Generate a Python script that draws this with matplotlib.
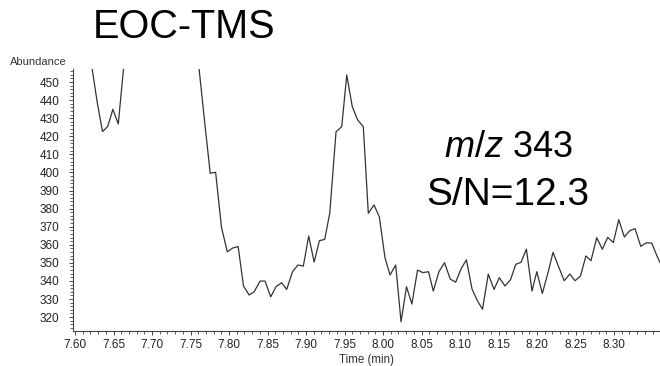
import matplotlib
matplotlib.use("Agg")
import matplotlib.pyplot as plt
from matplotlib.ticker import MultipleLocator

plt.rcParams['font.family'] = ['Liberation Sans', 'DejaVu Sans']
plt.rcParams['mathtext.fontset'] = 'custom'
plt.rcParams['mathtext.it'] = 'Liberation Sans:italic'
plt.rcParams['mathtext.rm'] = 'Liberation Sans'

# retention time (min) of each scan
time_min = [7.6149, 7.6219, 7.6290, 7.6357, 7.6425, 7.6492, 7.6562, 7.6636,
            7.6706, 7.6777, 7.6847, 7.6917, 7.6987, 7.7057, 7.7127, 7.7197,
            7.7268, 7.7338, 7.7408, 7.7478, 7.7543,
            7.7613, 7.7683, 7.7756, 7.7826, 7.7903, 7.7978, 7.8048, 7.8119,
            7.8188, 7.8261, 7.8327, 7.8403, 7.8468, 7.8542, 7.8610, 7.8684,
            7.8749, 7.8825, 7.8896, 7.8965, 7.9035, 7.9106, 7.9173, 7.9243,
            7.9308, 7.9390, 7.9464, 7.9529, 7.9601, 7.9671, 7.9744, 7.9809,
            7.9883, 7.9952, 8.0026, 8.0091, 8.0165, 8.0234, 8.0305, 8.0375,
            8.0448, 8.0518, 8.0591, 8.0653, 8.0727, 8.0799, 8.0873, 8.0944,
            8.1013, 8.1083, 8.1156, 8.1225, 8.1292, 8.1367, 8.1442, 8.1510,
            8.1584, 8.1655, 8.1725, 8.1792, 8.1862, 8.1935, 8.1997, 8.2069,
            8.2138, 8.2208, 8.2281, 8.2353, 8.2425, 8.2494, 8.2564, 8.2635,
            8.2701, 8.2775, 8.2848, 8.2918, 8.2991, 8.3061, 8.3134, 8.3204,
            8.3273, 8.3347, 8.3419, 8.3490, 8.3558, 8.3629]

# abundance, values above the frame are clipped in the original
abundance = [476, 458.3, 438.4, 422.6, 425.4, 434.9, 426.8, 460,
             520, 585, 640, 690, 720, 735, 730, 705,
             660, 610, 560, 515, 484,
             456.6, 428.2, 399.5, 400.1, 369.5, 356.1, 358.2, 359.0,
             337.2, 332.2, 334.0, 339.9, 339.9, 331.2, 336.8, 339.0,
             335.3, 345.1, 348.8, 348.2, 364.8, 350.4, 362.2, 363.0,
             377.4, 422.5, 425.3, 453.9, 436.3, 429.0, 425.3, 377.4,
             382.0, 375.5, 352.7, 343.3, 348.8, 317.4, 336.8, 327.2,
             346.0, 344.6, 345.1, 334.4, 345.2, 350.1, 341.0, 339.3,
             346.6, 351.7, 335.5, 329.1, 324.3, 343.8, 335.3, 341.8,
             337.2, 340.6, 349.2, 350.3, 357.6, 334.4, 345.1, 333.1,
             343.8, 355.8, 347.8, 340.1, 343.8, 340.1, 342.7, 353.8,
             351.2, 363.9, 357.5, 364.1, 361.2, 373.9, 364.3, 367.8,
             368.9, 359.1, 361.1, 360.9, 353.8, 347.2]

x_ticks = [7.60, 7.65, 7.70, 7.75, 7.80, 7.85, 7.90, 7.95, 8.00, 8.05,
           8.10, 8.15, 8.20, 8.25, 8.30]
y_ticks = [320, 330, 340, 350, 360, 370, 380, 390, 400, 410, 420, 430, 440, 450]

fig = plt.figure(figsize=(6.6, 3.66), dpi=100)
ax = fig.add_axes([0.1106, 0.0956, 0.8894, 0.7159])

ax.plot(time_min, abundance, color='#333333', lw=0.9)

ax.set_xlim(7.5974, 8.3597)
ax.set_ylim(312.3, 457.2)
ax.set_xticks(x_ticks)
ax.set_xticklabels(['%.2f' % t for t in x_ticks])
ax.set_yticks(y_ticks)
ax.xaxis.set_minor_locator(MultipleLocator(0.01))
ax.yaxis.set_minor_locator(MultipleLocator(2))

for s in ['top', 'right']:
    ax.spines[s].set_visible(False)
for s in ['left', 'bottom']:
    ax.spines[s].set_color('#444444')
    ax.spines[s].set_linewidth(0.8)

ax.tick_params(axis='both', which='major', length=3, width=0.7, color='#444444',
               labelsize=8.5, labelcolor='#222222')
ax.tick_params(axis='x', which='major', pad=3)
ax.tick_params(axis='y', which='major', pad=7)
ax.tick_params(axis='both', which='minor', length=2, width=0.6, color='#444444')

ax.set_xlabel('Time (min)', fontsize=8.3, color='#333333', labelpad=2)
fig.text(0.015, 0.83, 'Abundance', fontsize=8, color='#333333', va='center')

fig.text(0.141, 0.925, 'EOC-TMS', fontsize=28.5, va='center', ha='left')
fig.text(0.770, 0.597, r'$\it{m/z}$ 343', fontsize=26, ha='center', va='center')
fig.text(0.770, 0.468, 'S/N=12.3', fontsize=28, ha='center', va='center')

fig.savefig('out.png', dpi=100)
